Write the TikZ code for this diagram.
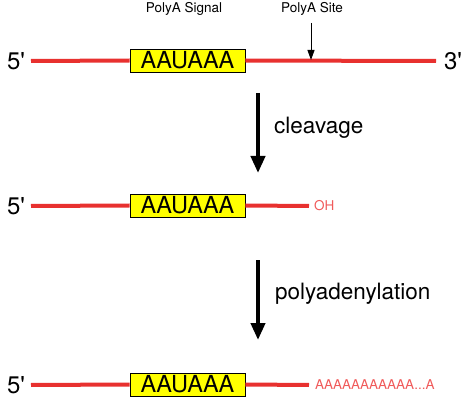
\documentclass[tikz,border=0pt]{standalone}
\usepackage{fontspec}
\setmainfont{TeX Gyre Heros}
\usetikzlibrary{arrows.meta,positioning}
\definecolor{rnacol}{HTML}{E8312F}
\definecolor{ohcol}{HTML}{F05A5A}
\definecolor{boxcol}{HTML}{FFFF00}

\begin{document}
\begin{tikzpicture}[x=1pt, y=-1pt, line cap=butt,
  rna/.style={rnacol, line width=4pt},
  signalbox/.style={draw=black, line width=0.9pt, fill=boxcol, minimum width=115pt,
    minimum height=23pt, inner sep=0pt, font=\fontsize{23.5}{24}\selectfont},
  endlabel/.style={font=\fontsize{24}{24}\selectfont, inner sep=0pt},
  steplabel/.style={font=\fontsize{22.5}{24}\selectfont, anchor=west, inner sep=0pt},
  smalllabel/.style={font=\fontsize{13.5}{14}\selectfont, inner sep=0pt},
  tail/.style={ohcol, font=\fontsize{13.5}{14}\selectfont, anchor=west, inner sep=0pt},
  steparrow/.style={line width=4pt, -{Triangle[width=14pt,length=17pt]}}]

\useasboundingbox (0,0) rectangle (469,401);

% ---- pre-mRNA ----------------------------------------------------------
\node[endlabel] (five1) at (16,61) {5\textquotesingle};
\node[endlabel] (three1) at (453,61) {3\textquotesingle};
\coordinate (start1) at (31,61);
\coordinate (end1) at (436,61);
\node[signalbox] (sig1) at (187.5,60.5) {AAUAAA};
\draw[rna] (start1) -- (sig1.west);
\draw[rna] (sig1.east) -- (end1);

\node[smalllabel] (siglab) at (184,9) {PolyA Signal};
\node[smalllabel] (sitelab) at (312,9) {PolyA Site};
\coordinate (sitetop) at (311,23);
\coordinate (site) at (311,60);
\draw[line width=1pt, -{Triangle[width=7pt,length=10pt]}] (sitetop) -- (site);

% ---- cleavage ----------------------------------------------------------
\coordinate (cut1) at (258,93);
\coordinate (cut2) at (258,173);
\draw[steparrow] (cut1) -- (cut2);
\node[steplabel] (cutlab) at (274,128) {cleavage};

% ---- cleaved RNA -------------------------------------------------------
\node[endlabel] (five2) at (16,206) {5\textquotesingle};
\coordinate (start2) at (31,206);
\coordinate (end2) at (309,206);
\node[signalbox] (sig2) at (187.5,205.5) {AAUAAA};
\draw[rna] (start2) -- (sig2.west);
\draw[rna] (sig2.east) -- (end2);
\node[tail, right=5pt of end2] (oh) {OH};

% ---- polyadenylation ---------------------------------------------------
\coordinate (pa1) at (258,260);
\coordinate (pa2) at (258,340);
\draw[steparrow] (pa1) -- (pa2);
\node[steplabel] (palab) at (275,294) {polyadenylation};

% ---- mature mRNA -------------------------------------------------------
\node[endlabel] (five3) at (16,385) {5\textquotesingle};
\coordinate (start3) at (31,385);
\coordinate (end3) at (309,385);
\node[signalbox] (sig3) at (187.5,384.5) {AAUAAA};
\draw[rna] (start3) -- (sig3.west);
\draw[rna] (sig3.east) -- (end3);
\node[tail, right=6pt of end3] (polya) {AAAAAAAAAAA...A};

\end{tikzpicture}
\end{document}
